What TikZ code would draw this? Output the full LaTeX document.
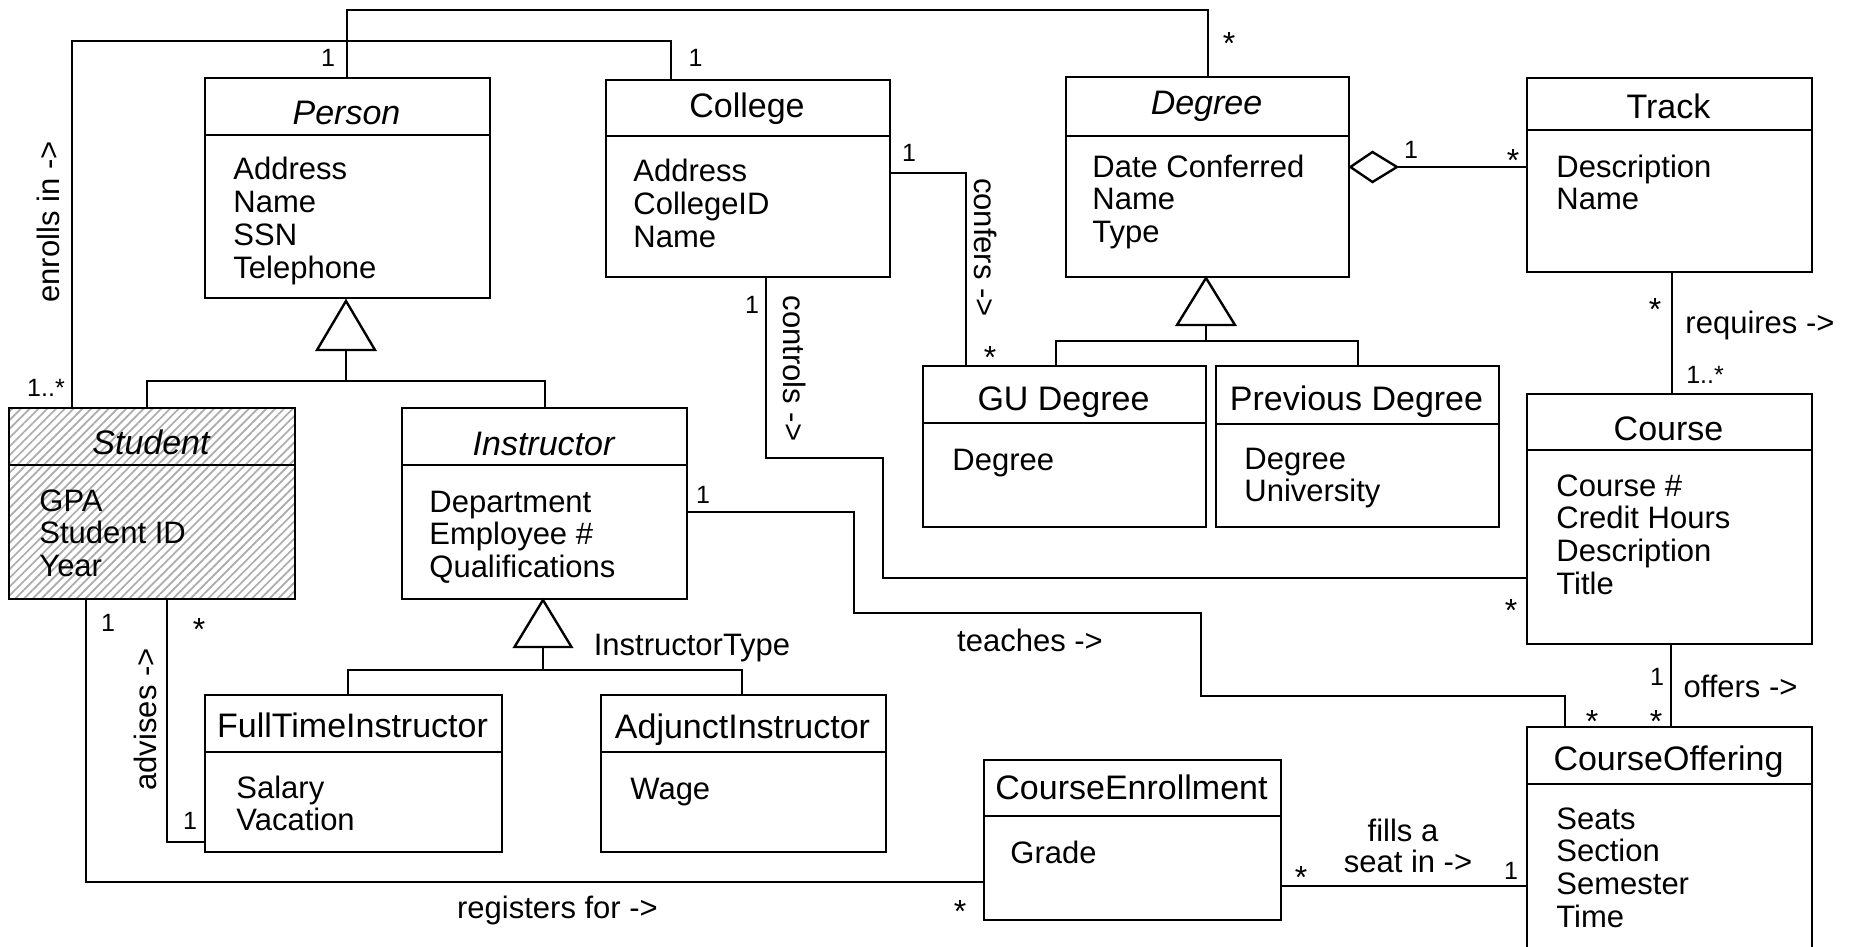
\documentclass[tikz,border=0pt]{standalone}
\usepackage{fontspec}
\setmainfont{Liberation Sans}
\usetikzlibrary{patterns.meta}

\tikzset{
  ln/.style={line width=1.2pt},
  box/.style={draw, line width=1.2pt, inner sep=0pt, anchor=north west},
  hatched/.style={pattern={Lines[angle=45,distance=3.1pt,line width=0.85pt]}, pattern color=black!33},
  ttl/.style={font=\fontsize{17}{18}\selectfont, anchor=base, inner sep=0pt},
  ittl/.style={font=\fontsize{17}{18}\selectfont\itshape, anchor=base, inner sep=0pt},
  att/.style={font=\fontsize{15.5}{16}\selectfont, anchor=base west, inner sep=0pt},
  lbl/.style={font=\fontsize{15.5}{16}\selectfont, inner sep=0pt},
  mult/.style={font=\fontsize{12.5}{13}\selectfont, anchor=base, inner sep=0pt},
  star/.style={font=\fontsize{16}{17}\selectfont, anchor=base, inner sep=0pt},
}

% box: [style] name x1 y1 x2 y2 header-separator-y
\newcommand\umlbox[7][]{%
  \node[box,#1, minimum width={(#5-#3)*0.5pt}, minimum height={(#6-#4)*0.5pt}] (#2) at (#3,#4) {};
  \draw[ln] (#2.west |- 0,#7) -- (#2.east |- 0,#7);
}
% attributes: name x first-baseline list
\newcommand\umlattrs[4]{%
  \foreach \t [count=\i from 0] in {#4} {\node[att] (#1-a\i) at (#2,{#3+32.7*\i}) {\t};}
}

\begin{document}
\begin{tikzpicture}[x=0.5pt,y=-0.5pt]
\useasboundingbox (0,0) rectangle (1849,947);
\fill[white] (0,0) rectangle (1849,947);

% ---------- classes ----------
\umlbox{Person}{204}{77}{489}{297}{135}
\umlbox{College}{605}{79}{889}{276}{136}
\umlbox{Degree}{1065}{76}{1348}{276}{136}
\umlbox{Track}{1526}{77}{1811}{271}{130}
\umlbox[hatched]{Student}{8}{407}{294}{598}{465}
\umlbox{Instructor}{401}{407}{686}{598}{465}
\umlbox{GU}{922}{365}{1205}{526}{423}
\umlbox{Prev}{1215}{365}{1498}{526}{424}
\umlbox{Course}{1526}{393}{1811}{643}{450}
\umlbox{FullTime}{204}{694}{501}{851}{752}
\umlbox{Adjunct}{600}{694}{885}{851}{752}
\umlbox{CE}{983}{759}{1280}{919}{816}
\umlbox{CO}{1526}{726}{1811}{985}{784}

\node[ittl] (Person-t) at (346.5,125) {Person};
\node[ttl] (College-t) at (747,118) {College};
\node[ittl] (Degree-t) at (1206.5,115) {Degree};
\node[ttl] (Track-t) at (1668.5,119) {Track};
\node[ittl] (Student-t) at (151,454) {Student};
\node[ittl] (Instructor-t) at (543.5,455) {Instructor};
\node[ttl] (GU-t) at (1063.5,410) {GU Degree};
\node[ttl] (Prev-t) at (1356.5,410) {Previous Degree};
\node[ttl] (Course-t) at (1668.5,440) {Course};
\node[ttl] (FullTime-t) at (352.5,737) {FullTimeInstructor};
\node[ttl] (Adjunct-t) at (742.5,738) {AdjunctInstructor};
\node[ttl] (CE-t) at (1131.5,799) {CourseEnrollment};
\node[ttl] (CO-t) at (1668.5,770) {CourseOffering};

\umlattrs{Person}{233}{180}{Address,Name,SSN,Telephone}
\umlattrs{College}{633}{182}{Address,CollegeID,Name}
\umlattrs{Degree}{1092}{177}{Date Conferred,Name,Type}
\umlattrs{Track}{1556}{177}{Description,Name}
\umlattrs{Student}{39}{511}{GPA,Student ID,Year}
\umlattrs{Instructor}{429}{512}{Department,Employee \#,Qualifications}
\umlattrs{GU}{952}{470}{Degree}
\umlattrs{Prev}{1244}{469}{Degree,University}
\umlattrs{Course}{1556}{496}{Course \#,Credit Hours,Description,Title}
\umlattrs{FullTime}{236}{798}{Salary,Vacation}
\umlattrs{Adjunct}{630}{799}{Wage}
\umlattrs{CE}{1010}{863}{Grade}
\umlattrs{CO}{1556}{829}{Seats,Section,Semester,Time}

% ---------- connectors ----------
% enrolls in
\draw[ln] (72,0 |- Student.north) -- (72,41) -- (671,41) -- (671,0 |- College.north);
% Person - Degree
\draw[ln] (347,0 |- Person.north) -- (347,10) -- (1208,10) -- (1208,0 |- Degree.north);
% generalization Person
\draw[ln] (147,0 |- Student.north) -- (147,381) -- (545,381) -- (545,0 |- Instructor.north);
\draw[ln] (346,381) -- (346,350);
\draw[ln] (346,301) -- (317,350) -- (375,350) -- cycle;
% advises
\draw[ln] (167,0 |- Student.south) -- (167,842) -- (FullTime.west |- 0,842);
% registers for
\draw[ln] (86,0 |- Student.south) -- (86,882) -- (CE.west |- 0,882);
% generalization Instructor
\draw[ln] (348,0 |- FullTime.north) -- (348,670) -- (742,670) -- (742,0 |- Adjunct.north);
\draw[ln] (543,670) -- (543,647);
\draw[ln] (543,600) -- (514.5,647) -- (571.5,647) -- cycle;
% teaches
\draw[ln] (Instructor.east |- 0,512) -- (854,512) -- (854,613) -- (1201,613) -- (1201,696) -- (1565,696) -- (1565,0 |- CO.north);
% controls
\draw[ln] (766,0 |- College.south) -- (766,458) -- (883,458) -- (883,578) -- (Course.west |- 0,578);
% confers
\draw[ln] (College.east |- 0,173) -- (966,173) -- (966,0 |- GU.north);
% generalization Degree
\draw[ln] (1056,0 |- GU.north) -- (1056,341) -- (1358,341) -- (1358,0 |- Prev.north);
\draw[ln] (1206,341) -- (1206,325);
\draw[ln] (1206,278) -- (1177,325) -- (1235,325) -- cycle;
% aggregation Degree - Track
\draw[ln] (Degree.east |- 0,167) -- (1372.5,152) -- (1397,167) -- (1372.5,182) -- cycle;
\draw[ln] (1397,167) -- (Track.west |- 0,167);
% requires
\draw[ln] (1672,0 |- Track.south) -- (1672,0 |- Course.north);
% offers
\draw[ln] (1671,0 |- Course.south) -- (1671,0 |- CO.north);
% fills a seat in
\draw[ln] (CE.east |- 0,886) -- (CO.west |- 0,886);

% ---------- association labels ----------
\node[lbl, rotate=90] (l-enroll) at (48,222) {enrolls in ->};
\node[lbl, rotate=90] (l-advises) at (145.5,719.5) {advises ->};
\node[lbl, rotate=-90] (l-controls) at (795,368.5) {controls ->};
\node[lbl, rotate=-90] (l-confers) at (985.5,247.5) {confers ->};
\node[lbl, anchor=base] (l-teaches) at (1030,651) {teaches ->};
\node[lbl, anchor=base] (l-itype) at (692,655) {InstructorType};
\node[lbl, anchor=base] (l-registers) at (557.5,918) {registers for ->};
\node[lbl, anchor=base] (l-requires) at (1760,333) {requires ->};
\node[lbl, anchor=base] (l-offers) at (1740.5,697) {offers ->};
\node[lbl, anchor=base] (l-fills1) at (1403,841) {fills a};
\node[lbl, anchor=base] (l-fills2) at (1408,872) {seat in ->};

% ---------- multiplicities ----------
\node[mult] (m1) at (328,67) {1};
\node[star] (m2) at (1229,55) {*};
\node[mult] (m3) at (46,396) {1..*};
\node[mult] (m4) at (695.5,67) {1};
\node[mult] (m5) at (108,631) {1};
\node[star] (m6) at (199,640) {*};
\node[mult] (m7) at (190,829) {1};
\node[star] (m8) at (960,922) {*};
\node[mult] (m9) at (703,503) {1};
\node[star] (m10) at (1592,732) {*};
\node[star] (m11) at (1656,732) {*};
\node[mult] (m12) at (1657,685) {1};
\node[star] (m13) at (1511,621) {*};
\node[mult] (m14) at (752,313) {1};
\node[mult] (m15) at (909,162) {1};
\node[star] (m16) at (990,368) {*};
\node[mult] (m17) at (1411,159) {1};
\node[star] (m18) at (1513,172) {*};
\node[star] (m19) at (1655,320) {*};
\node[mult] (m20) at (1705,383) {1..*};
\node[star] (m21) at (1301,888) {*};
\node[mult] (m22) at (1511,879) {1};
\end{tikzpicture}
\end{document}
